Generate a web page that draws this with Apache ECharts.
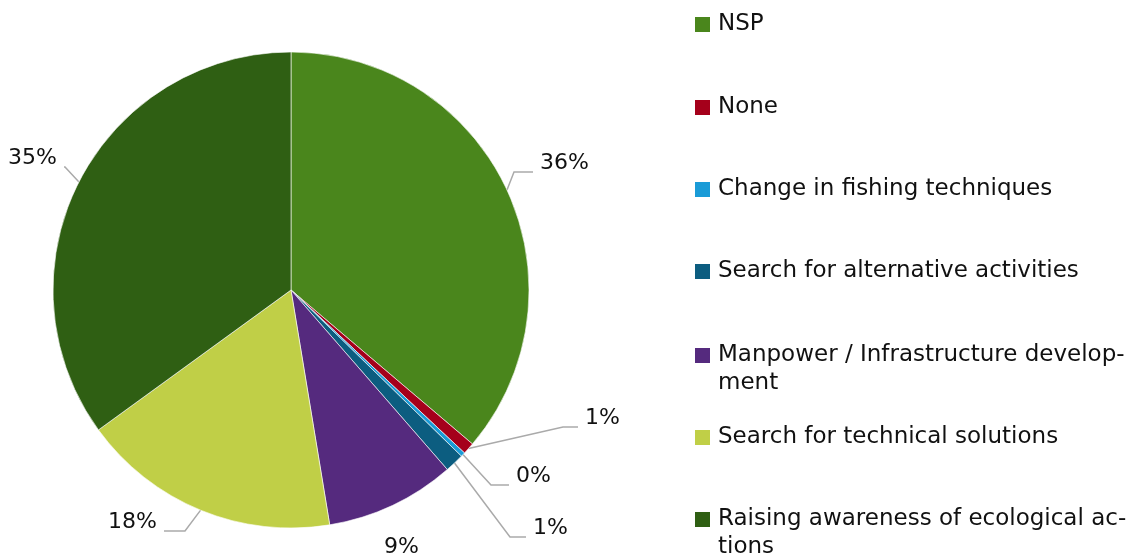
<!DOCTYPE html>
<html>
<head>
<meta charset="utf-8">
<script src="https://cdn.jsdelivr.net/npm/echarts@6/dist/echarts.min.js"></script>
<style>
  html, body { margin: 0; padding: 0; background: #fff; }
  #main { width: 1131px; height: 558px; }
</style>
</head>
<body>
<div id="main"></div>
<script>
// 各类别及占比（%）
var categories = [
  'NSP',
  'None',
  'Change in fishing techniques',
  'Search for alternative activities',
  'Manpower / Infrastructure development',
  'Search for technical solutions',
  'Raising awareness of ecological actions'
];
var values = [36.2, 0.8, 0.3, 1.3, 8.8, 17.6, 35.0];
// 图例显示文字（原图有断行）
var legendLabels = [
  'NSP',
  'None',
  'Change in fishing techniques',
  'Search for alternative activities',
  'Manpower / Infrastructure develop-\nment',
  'Search for technical solutions',
  'Raising awareness of ecological ac-\ntions'
];
var colors = ['#4a861c', '#a5001b', '#1a9bd7', '#0c5d80', '#552a7e', '#c0cf47', '#2f5f13'];

window.onload = function() {
  var myChart = echarts.init(document.getElementById('main'));
  var font = 'DejaVu Sans';

  // 图例色块的上沿位置
  var iconTops = [16, 99, 181, 263, 347, 429, 511];
  // 百分比标签的位置 [x, y(引线高度), 对齐]
  var labelPos = [
    [533, 172, 'left'],
    [578, 427, 'left'],
    [509, 485, 'left'],
    [526, 537, 'left'],
    [377, 556, 'left'],
    [164, 531, 'right'],
    [64, 167, 'right']
  ];
  var lineLen2 = [19, 15, 18, 16, 0, 21, 1];
  var lineShow = [true, true, true, true, false, true, true];

  // 图例：每项单独一个 legend，换行的项第一行对齐色块
  var legends = categories.map(function(name, i) {
    var multi = legendLabels[i].indexOf('\n') >= 0;
    return {
      orient: 'vertical',
      left: 693,
      top: multi ? iconTops[i] - 33.5 : iconTops[i] - 5.5,
      padding: 0,
      data: [name],
      icon: 'rect',
      itemWidth: 17,
      itemHeight: 17,
      itemGap: 0,
      selectedMode: false,
      formatter: function() { return multi ? '\n' + legendLabels[i] : legendLabels[i]; },
      textStyle: { fontFamily: font, fontSize: 23, color: '#111', lineHeight: 28, padding: [0, 0, 0, 2] }
    };
  });

  var option = {
    backgroundColor: '#fff',
    animation: false,
    color: colors,
    legend: legends,
    series: [{
      type: 'pie',
      center: [291, 290],
      radius: [0, 238],
      startAngle: 90,
      clockwise: true,
      percentPrecision: 0,
      avoidLabelOverlap: false,
      itemStyle: { borderColor: '#fff', borderWidth: 0.6 },
      label: {
        // 末尾空行让引线接在文字下方；空格留出与引线的间隙
        formatter: function(p) {
          var t = p.percent + '%';
          return (labelPos[p.dataIndex][2] === 'left' ? ' ' + t : t + ' ') + '\n';
        },
        fontFamily: font,
        fontSize: 22,
        lineHeight: 18,
        color: '#111',
        overflow: 'none'
      },
      labelLine: {
        length: 18,
        length2: 15,
        lineStyle: { color: '#aaa', width: 1.5 }
      },
      labelLayout: function(params) {
        var p = labelPos[params.dataIndex];
        return { x: p[0], y: p[1], align: p[2], verticalAlign: 'middle' };
      },
      data: categories.map(function(name, i) {
        return {
          name: name,
          value: values[i],
          labelLine: { show: lineShow[i], length2: lineLen2[i] }
        };
      })
    }]
  };
  myChart.setOption(option);
};
</script>
</body>
</html>
